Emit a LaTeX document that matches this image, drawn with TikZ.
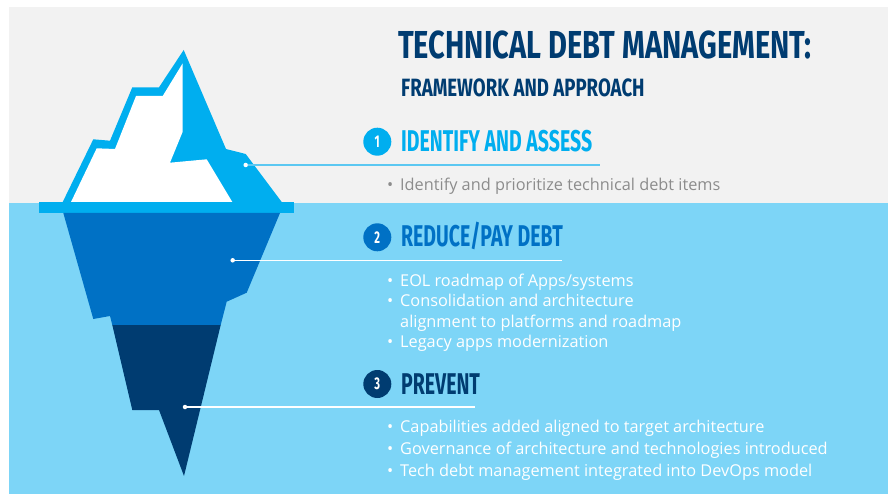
\documentclass[tikz,border=0pt]{standalone}
\usepackage{fontspec}
\setmainfont{Open Sans}
\newfontfamily\headfont[FakeStretch=0.745]{Fira Sans}
\newfontfamily\stagefont[FakeStretch=0.65]{Fira Sans}
\usetikzlibrary{positioning}

\definecolor{paper}{HTML}{F2F2F2}
\definecolor{sea}{HTML}{7DD5F7}
\definecolor{ice}{HTML}{00AEEF}
\definecolor{deep}{HTML}{0071C5}
\definecolor{abyss}{HTML}{003C71}
\definecolor{leader}{HTML}{5CC8F2}
\definecolor{itemgrey}{HTML}{8C8C8C}

\tikzset{
  stagenum/.style={circle,fill=#1,text=white,minimum size=28pt,inner sep=0pt,
    font=\stagefont\bfseries\fontsize{17}{17}\selectfont},
  stagehead/.style={anchor=base west,inner sep=0pt,text=#1,
    font=\stagefont\bfseries\fontsize{30}{30}\selectfont},
  itemlist/.style={anchor=base west,inner sep=0pt,text=#1,
    font=\fontsize{16.3}{20.5}\selectfont},
  itemlist/.default=white,
  iceberg dot/.style={circle,fill=white,inner sep=0pt,minimum size=4.5pt},
}

\begin{document}
\begin{tikzpicture}[x=1pt,y=-1pt]
    \useasboundingbox (0,0) rectangle (888,494);
    \fill[white] (0,0) rectangle (888,494);
    \fill[paper] (9,7) rectangle (888,203);
    \fill[sea] (9,203) rectangle (888,494);

    % above the water
    \fill[ice] (62.7,202) -- (93.3,139.3) -- (110,140.7) -- (132.3,87.3) -- (159,87.3) -- (183.7,50)
      -- (226,149) -- (245.7,154) -- (281.7,202) -- cycle;
    \fill[white] (71,202) -- (96.7,148.3) -- (115,149) -- (136,96) -- (162.7,96) -- (182.7,63.3)
      -- (182.7,131.7) -- (170,162.7) -- (206.7,159.3) -- (232.3,202) -- cycle;
    \fill[ice] (39,202) rectangle (294,213);
    % below the water
    \fill[deep] (63.3,213) -- (280,213) -- (246.7,292.7) -- (226.7,301.7) -- (220.7,325)
      -- (112.3,325) -- (110,316) -- (93.3,319) -- cycle;
    \fill[abyss] (112.3,325) -- (220.7,325) -- (184,476) -- (159,410) -- (132.3,410) -- cycle;

    \node[anchor=base west,inner sep=0pt,text=abyss,font=\headfont\bfseries\fontsize{39}{39}\selectfont]
      (title) at (398,58.3) {TECHNICAL DEBT MANAGEMENT:};
    \node[anchor=base west,inner sep=0pt,text=abyss,font=\headfont\bfseries\fontsize{25}{25}\selectfont]
      (subtitle) at (401,96.7) {FRAMEWORK AND APPROACH};

    \node[stagenum=ice] (num1) at (377.3,141.7) {1};
    \node[stagenum=deep] (num2) at (377.3,237.3) {2};
    \node[stagenum=abyss] (num3) at (377.3,384) {3};
    \node[stagehead=ice] (head1) at (401,151.7) {IDENTIFY AND ASSESS};
    \node[stagehead=deep] (head2) at (401,246.7) {REDUCE/PAY DEBT};
    \node[stagehead=abyss] (head3) at (401,394.7) {PREVENT};

    \node[itemlist=itemgrey] (items1) at (387,190.7)
      {\begin{tabular}[t]{@{}p{13pt}@{}l@{}}• & Identify and prioritize technical debt items\end{tabular}};
    \node[itemlist] (items2) at (387,286)
      {\begin{tabular}[t]{@{}p{13pt}@{}l@{}}
        • & EOL roadmap of Apps/systems\\
        • & Consolidation and architecture\\
          & alignment to platforms and roadmap\\
        • & Legacy apps modernization\end{tabular}};
    \node[itemlist] (items3) at (387,432.7)
      {\renewcommand\arraystretch{1.065}\begin{tabular}[t]{@{}p{13pt}@{}l@{}}
        • & Capabilities added aligned to target architecture\\
        • & Governance of architecture and technologies introduced\\
        • & Tech debt management integrated into DevOps model\end{tabular}};

    % leaders from the iceberg
    \node[iceberg dot] (dot1) at (245.7,165) {};
    \node[iceberg dot] (dot2) at (232.7,260.3) {};
    \node[iceberg dot] (dot3) at (185,407) {};
    \coordinate (end1) at (600,165);
    \coordinate (end2) at (562,260.3);
    \coordinate (end3) at (475,407);
    \draw[leader,line width=1.2pt] (dot1) -- (end1);
    \draw[white,line width=1.2pt] (dot2) -- (end2);
    \draw[white,line width=1.2pt] (dot3) -- (end3);
\end{tikzpicture}
\end{document}
